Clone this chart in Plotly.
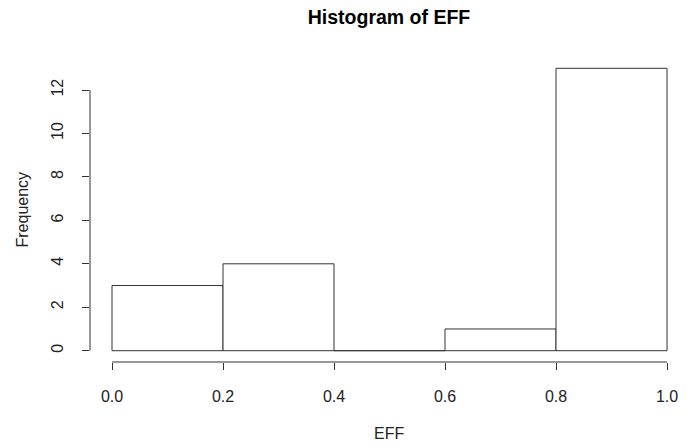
import plotly.graph_objects as go

# Histogram bins of EFF and their counts
bin_edges = [0.0, 0.2, 0.4, 0.6, 0.8, 1.0]
counts = [3, 4, 0, 1, 13]
x_ticks = [0.0, 0.2, 0.4, 0.6, 0.8, 1.0]
x_tick_labels = ["0.0", "0.2", "0.4", "0.6", "0.8", "1.0"]
y_ticks = [0, 2, 4, 6, 8, 10, 12]

centers = [(a + b) / 2 for a, b in zip(bin_edges[:-1], bin_edges[1:])]
widths = [b - a for a, b in zip(bin_edges[:-1], bin_edges[1:])]

FONT = "Liberation Sans, Arial, sans-serif"
INK = "#333333"
LABEL = "#222222"

fig = go.Figure()
fig.add_trace(go.Bar(
    x=centers, y=counts, width=widths, base=0,
    marker=dict(color="white", line=dict(color=INK, width=1)),
    hoverinfo="x+y",
))

# Detached axis lines spanning only the tick range
fig.add_shape(type="line", xref="x", yref="paper",
              x0=x_ticks[0], x1=x_ticks[-1], y0=0, y1=0,
              line=dict(color=INK, width=1))
fig.add_shape(type="line", xref="paper", yref="y",
              x0=0, x1=0, y0=y_ticks[0], y1=y_ticks[-1],
              line=dict(color=INK, width=1))

fig.update_layout(
    width=688, height=448,
    margin=dict(l=90, r=0, t=57, b=86),
    plot_bgcolor="white", paper_bgcolor="white",
    showlegend=False,
    font=dict(family=FONT, size=16, color=LABEL),
    title=dict(text="<b>Histogram of EFF</b>", x=(90 + 598 / 2) / 688, xanchor="center",
               y=1 - 17 / 448, yanchor="middle",
               font=dict(size=19.5, family=FONT, color="black")),
    xaxis=dict(range=[-0.03964, 1.0378], tickvals=x_ticks, ticktext=x_tick_labels,
               ticks="outside", ticklen=7, tickcolor=INK, showgrid=False,
               zeroline=False, showline=False, ticklabelstandoff=13,
               tickfont=dict(size=16)),
    yaxis=dict(range=[-0.52, 13.52], tickvals=y_ticks, ticks="outside", ticklen=7,
               tickcolor=INK, tickangle=-90, showgrid=False, zeroline=False,
               showline=False, ticklabelstandoff=13, tickfont=dict(size=16)),
    annotations=[
        dict(text="EFF", xref="paper", yref="paper", x=0.5,
             y=(362 - 433) / 305, xanchor="center", yanchor="middle", showarrow=False,
             font=dict(size=16, family=FONT)),
        dict(text="Frequency", xref="paper", yref="paper", x=(22 - 90) / 598,
             y=0.5, xanchor="center", yanchor="middle", textangle=-90, showarrow=False,
             font=dict(size=16, family=FONT)),
    ],
)

fig.write_html("out.html")
